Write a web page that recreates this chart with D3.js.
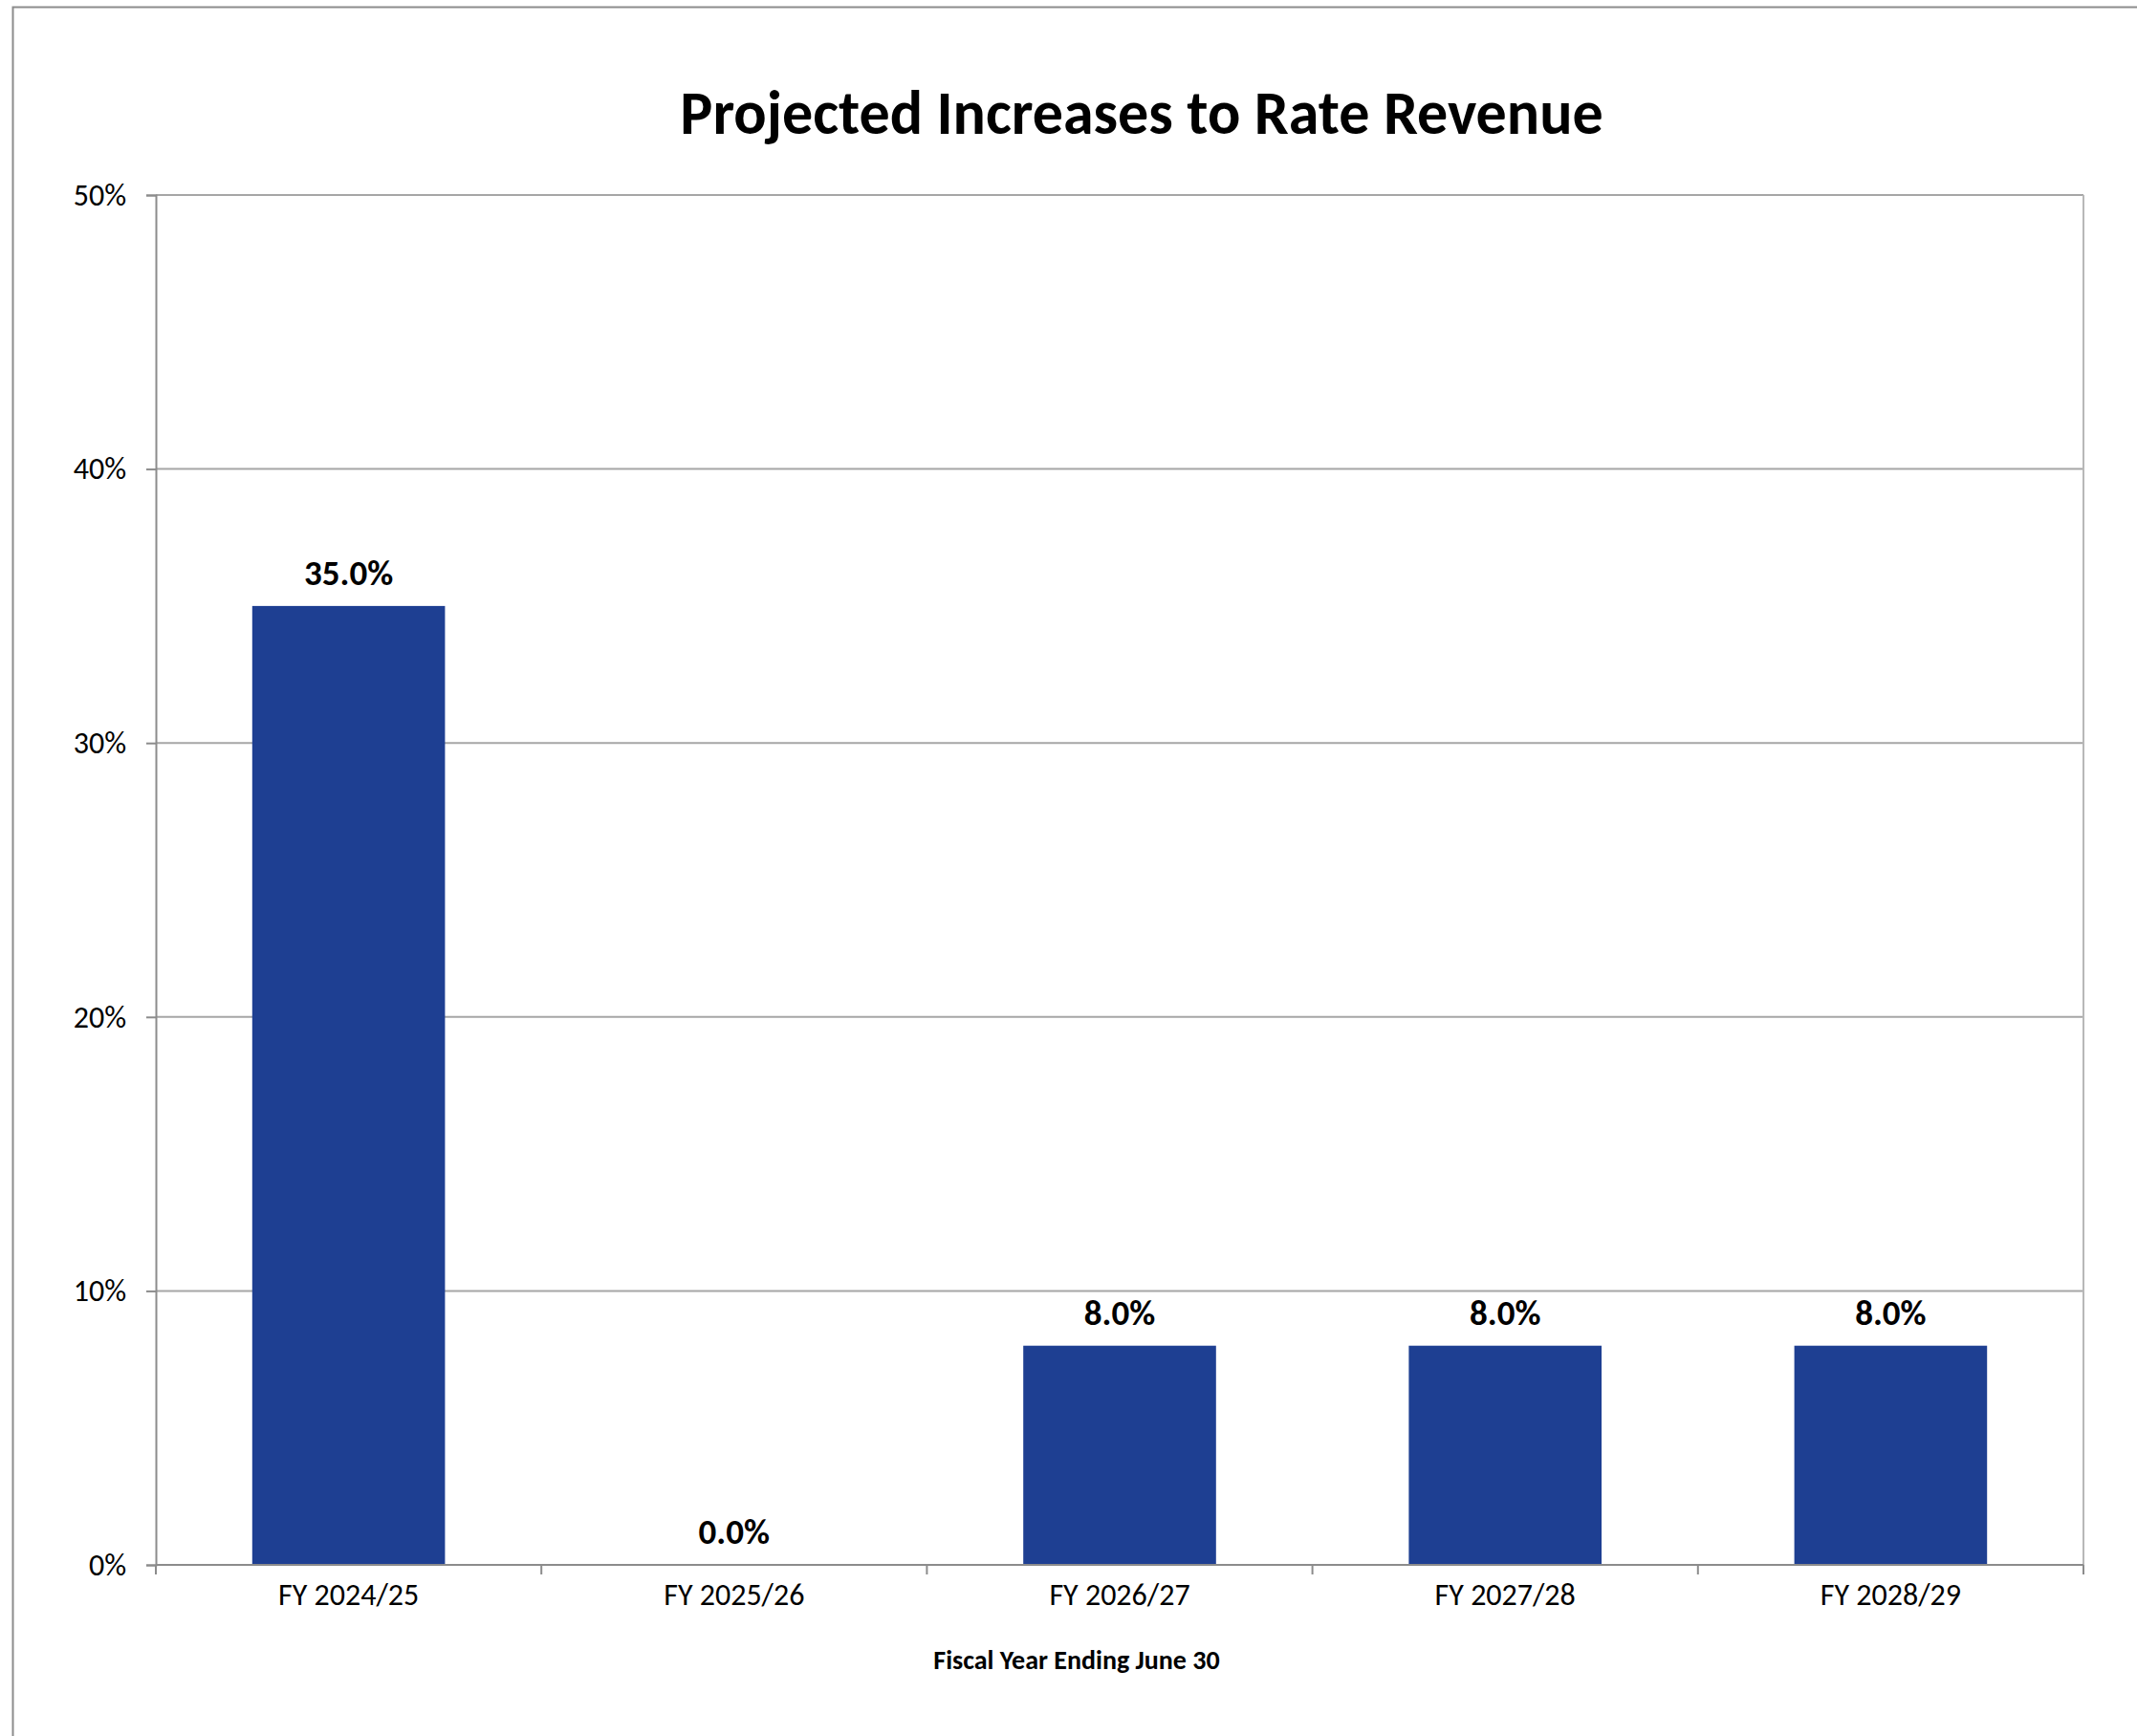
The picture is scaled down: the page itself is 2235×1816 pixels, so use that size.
<!DOCTYPE html>
<html>
<head>
<meta charset="utf-8">
<script src="https://cdn.jsdelivr.net/npm/d3@7"></script>
<style>
  body { margin: 0; background: #fff; }
  svg { display: block; font-family: Carlito, Lato, sans-serif; }
</style>
</head>
<body>
<svg id="chart"></svg>
<script>
// chart data
const years = ["FY 2024/25", "FY 2025/26", "FY 2026/27", "FY 2027/28", "FY 2028/29"];
const increases = [0.35, 0.0, 0.08, 0.08, 0.08];
const yTicks = [0, 0.1, 0.2, 0.3, 0.4, 0.5];

const config = {
  width: 2235,
  height: 1816,
  margin: { top: 204, right: 56, bottom: 179, left: 163 }
};

const svg = d3.select("#chart")
    .attr("width", config.width)
    .attr("height", config.height);

// outer chart-area border (cropped on right and bottom)
svg.append("rect")
    .attr("x", 13.5)
    .attr("y", 7.5)
    .attr("width", config.width + 20)
    .attr("height", config.height + 20)
    .attr("fill", "none")
    .attr("stroke", "#8c8c8c")
    .attr("stroke-width", 2);

const width = config.width - config.margin.left - config.margin.right;
const height = config.height - config.margin.top - config.margin.bottom;

const chart = svg.append("g")
    .attr("transform", `translate(${config.margin.left},${config.margin.top})`);

const xScale = d3.scaleBand()
    .domain(years)
    .range([0, width])
    .paddingInner(0.5)
    .paddingOuter(0.25);

const yScale = d3.scaleLinear()
    .domain([0, 0.5])
    .range([height, 0]);

// gridlines
chart.append("g")
  .selectAll("line")
  .data(yTicks.slice(1))
  .join("line")
    .attr("x1", 0)
    .attr("x2", width)
    .attr("y1", d => yScale(d))
    .attr("y2", d => yScale(d))
    .attr("stroke", "#a6a6a6")
    .attr("stroke-width", 2);

// right border of plot area
chart.append("line")
    .attr("x1", width).attr("x2", width)
    .attr("y1", 0).attr("y2", height)
    .attr("stroke", "#b8b8b8")
    .attr("stroke-width", 2);

// bars
chart.selectAll(".bar")
  .data(years)
  .join("rect")
    .attr("class", "bar")
    .attr("x", d => xScale(d))
    .attr("y", (d, i) => yScale(increases[i]))
    .attr("width", xScale.bandwidth())
    .attr("height", (d, i) => height - yScale(increases[i]))
    .attr("fill", "#1e3f92");

// value labels
chart.selectAll(".val")
  .data(years)
  .join("text")
    .attr("class", "val")
    .attr("x", d => xScale(d) + xScale.bandwidth() / 2)
    .attr("y", (d, i) => yScale(increases[i]) - 22)
    .attr("text-anchor", "middle")
    .style("font-size", "37px")
    .style("font-weight", "bold")
    .text((d, i) => d3.format(".1%")(increases[i]));

// x axis: ticks at band edges
const xAxisG = chart.append("g")
    .attr("transform", `translate(0,${height})`);

xAxisG.append("line")
    .attr("x1", 0).attr("x2", width)
    .attr("stroke", "#8c8c8c")
    .attr("stroke-width", 2);

xAxisG.selectAll(".xtick")
  .data(d3.range(years.length + 1))
  .join("line")
    .attr("class", "xtick")
    .attr("x1", i => i * xScale.step())
    .attr("x2", i => i * xScale.step())
    .attr("y1", 0)
    .attr("y2", 10)
    .attr("stroke", "#8c8c8c")
    .attr("stroke-width", 2);

xAxisG.selectAll(".xlabel")
  .data(years)
  .join("text")
    .attr("class", "xlabel")
    .attr("x", d => xScale(d) + xScale.bandwidth() / 2)
    .attr("y", 42)
    .attr("text-anchor", "middle")
    .style("font-size", "32px")
    .text(d => d);

// y axis
const yAxis = d3.axisLeft(yScale)
    .tickValues(yTicks)
    .tickFormat(d3.format(".0%"))
    .tickSize(10)
    .tickPadding(21);

const yAxisG = chart.append("g").call(yAxis);
yAxisG.select(".domain").attr("stroke", "#8c8c8c").attr("stroke-width", 2);
yAxisG.selectAll(".tick line").attr("stroke", "#8c8c8c").attr("stroke-width", 2);
yAxisG.selectAll(".tick text")
    .attr("fill", "#000")
    .style("font-family", "Carlito, Lato, sans-serif")
    .style("font-size", "32px");

// title
svg.append("text")
    .attr("x", 1194)
    .attr("y", 140)
    .attr("text-anchor", "middle")
    .style("font-size", "64px")
    .style("font-weight", "bold")
    .text("Projected Increases to Rate Revenue");

// axis title
svg.append("text")
    .attr("x", 1126)
    .attr("y", 1746)
    .attr("text-anchor", "middle")
    .style("font-size", "28px")
    .style("font-weight", "bold")
    .text("Fiscal Year Ending June 30");
</script>
</body>
</html>
